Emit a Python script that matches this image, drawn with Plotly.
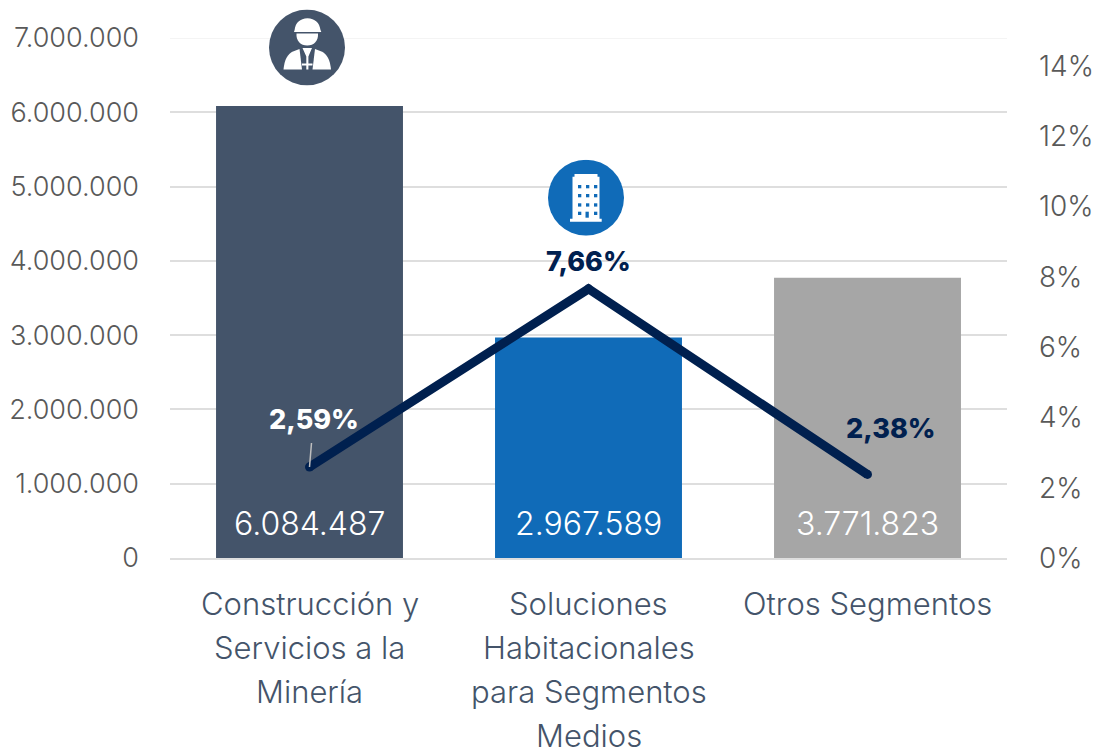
import base64
import plotly.graph_objects as go

categories = ["Construcción y Servicios a la Minería", "Soluciones Habitacionales para Segmentos Medios", "Otros Segmentos"]
category_lines = [["Construcción y", "Servicios a la", "Minería"],
                  ["Soluciones", "Habitacionales", "para Segmentos", "Medios"],
                  ["Otros Segmentos"]]
bar_values = [6084487, 2967589, 3771823]
bar_labels = ["6.084.487", "2.967.589", "3.771.823"]
bar_colors = ["#44546A", "#106BB8", "#A6A6A6"]
pct_values = [2.59, 7.66, 2.38]
pct_labels = ["2,59%", "7,66%", "2,38%"]

FONT = "Inter"
W, H = 1096, 748
L, R, T, B = 170, 1007, 38, 558

fig = go.Figure()
fig.add_trace(go.Bar(x=categories, y=bar_values, marker=dict(color=bar_colors, line_width=0),
                     width=0.67, showlegend=False, hoverinfo="skip"))
fig.add_trace(go.Scatter(x=categories, y=pct_values, yaxis="y2", mode="lines+markers",
                         line=dict(color="#00204F", width=9),
                         marker=dict(color="#00204F", size=9), showlegend=False, hoverinfo="skip"))

ann = []
# value labels inside the bars
for c, t in zip(categories, bar_labels):
    ann.append(dict(x=c, y=0, yref="y", text=t, showarrow=False, yanchor="middle", yshift=35,
                    font=dict(family=FONT, size=32, color="white", weight=300)))
# percentage labels
ann.append(dict(x=categories[0], y=pct_values[0], yref="y2", text=pct_labels[0], showarrow=True,
                ax=4, ay=-48, arrowhead=0, arrowwidth=1.5, arrowcolor="#BFBFBF", startstandoff=6,
                font=dict(family=FONT, size=27, color="white", weight=800)))
ann.append(dict(x=categories[1], y=pct_values[1], yref="y2", text=pct_labels[1], showarrow=False,
                yshift=27, font=dict(family=FONT, size=27, color="#00204F", weight=800)))
ann.append(dict(x=categories[2], y=pct_values[2], yref="y2", text=pct_labels[2], showarrow=False,
                xshift=23.5, yshift=46, font=dict(family=FONT, size=27, color="#00204F", weight=800)))
# category labels, line by line (44 px leading)
for c, lines in zip(categories, category_lines):
    for i, line in enumerate(lines):
        ann.append(dict(x=c, y=0, yref="paper", text=line, showarrow=False, yanchor="middle",
                        yshift=-(45 + 44 * i), font=dict(family=FONT, size=31, color="#44546A", weight=300)))


def icon(svg):
    return "data:image/svg+xml;base64," + base64.b64encode(svg.encode()).decode()


worker_svg = """<svg xmlns='http://www.w3.org/2000/svg' width='76' height='76' viewBox='0 0 76 76'>
<circle cx='38' cy='38' r='38' fill='#44546A'/>
<g fill='white'>
<path d='M25 22.5 L25.6 20.5 C26.5 13 31 9 38.5 8.7 C46 9 50.5 13 51.5 20.5 L52.3 22.5 Z'/>
<path d='M27.5 24 L49 24 C49.5 31.5 45 36 38.2 36 C31.5 36 27 31.5 27.5 24 Z'/>
<path d='M24 42 L30.5 39.5 L33 60 L14.5 60 C15.5 50 18.5 44.5 24 42 Z'/>
<path d='M52.5 42 L46 39.5 L43.5 60 L62 60 C61 50 58 44.5 52.5 42 Z'/>
<path d='M33.5 38.5 L43 38.5 L39.4 47 L39.4 60 L37.3 60 L37.3 47 Z'/>
<path d='M33 54 H43.5 V56 H33 Z'/>
</g></svg>"""

windows = "".join(f"<rect x='{x}' y='{y}' width='3.3' height='3.3' fill='#106BB8'/>"
                  for y in (25.3, 34.3, 43.6) for x in (30, 38, 46))
building_svg = f"""<svg xmlns='http://www.w3.org/2000/svg' width='76' height='76' viewBox='0 0 76 76'>
<circle cx='38' cy='38' r='38' fill='#106BB8'/>
<path fill='white' d='M24.5 59 V17 L26.5 17 V14.3 H49.5 V17 L51.5 17 V59 H53.7 V62 H22 V59 Z'/>
{windows}
<rect x='30' y='52' width='3.3' height='3.3' fill='#106BB8'/>
<rect x='46' y='52' width='3.3' height='3.3' fill='#106BB8'/>
<rect x='37.5' y='52' width='3.3' height='6' fill='#106BB8'/>
</svg>"""


def px(x):
    return (x - L) / (R - L)


def py(y):
    return (B - y) / (B - T)


images = [dict(source=icon(worker_svg), xref="paper", yref="paper", x=px(269), y=py(9.5),
               sizex=76 / (R - L), sizey=76 / (B - T), xanchor="left", yanchor="top", layer="above", sizing="stretch"),
          dict(source=icon(building_svg), xref="paper", yref="paper", x=px(548), y=py(159.7),
               sizex=76 / (R - L), sizey=76 / (B - T), xanchor="left", yanchor="top", layer="above", sizing="stretch")]

fig.update_layout(
    width=W, height=H, margin=dict(l=L, r=W - R, t=T, b=H - B, pad=0, autoexpand=False),
    paper_bgcolor="white", plot_bgcolor="white", separators=",.",
    bargap=0.33, annotations=ann, images=images,
    xaxis=dict(showticklabels=False, showgrid=False, zeroline=False, showline=True, automargin=False,
               linecolor="#DEDEDE", linewidth=2, ticks="", fixedrange=True),
    yaxis=dict(range=[0, 7000000], dtick=1000000, tickformat=",d",
               tickfont=dict(family=FONT, size=27, color="#595959", weight=300), automargin=False,
               showgrid=True, gridcolor="#DEDEDE", gridwidth=2, zeroline=False, showline=False,
               ticks="", ticklabelstandoff=30),
    yaxis2=dict(range=[0, 14.8], dtick=2, ticksuffix="%",
                tickfont=dict(family=FONT, size=28, color="#595959", weight=300), overlaying="y",
                side="right", showgrid=False, zeroline=False, showline=False, ticks="", automargin=False,
                ticklabelstandoff=31),
    shapes=[dict(type="line", xref="paper", yref="y", x0=0, x1=1, y0=7000000, y1=7000000,
                 line=dict(color="#F4F4F4", width=2), layer="below")],
)
fig.write_html("out.html", config=dict(displayModeBar=False),
               post_script="document.body.style.margin='0';document.documentElement.style.overflow='hidden';")
